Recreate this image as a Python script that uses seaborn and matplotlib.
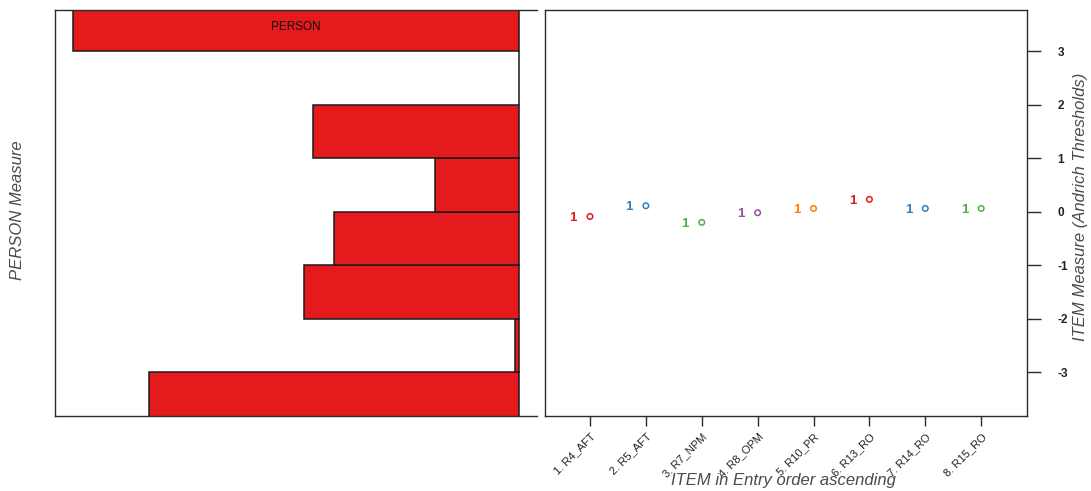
import numpy as np
import pandas as pd
import matplotlib
matplotlib.use("Agg")
import matplotlib.pyplot as plt
import seaborn as sns

# Person distribution: counts per 1-logit bin (bin edges in logits)
bin_edges = [-4, -3, -2, -1, 0, 1, 2, 3, 4]
person_counts = [88, 1, 51, 44, 20, 49, 0, 106]

# Items and their threshold locations
item_names = ["1. R4_AFT", "2. R5_AFT", "3. R7_NPM", "4. R8_OPM",
              "5. R10_PR", "6. R13_RO", "7. R14_RO", "8. R15_RO"]
item_measure = [-0.09, 0.11, -0.20, -0.02, 0.06, 0.23, 0.06, 0.06]
threshold_label = ["1", "1", "1", "1", "1", "1", "1", "1"]
item_colors = ["#E41A1C", "#377EB8", "#4DAF4A", "#984EA3", "#FF7F00",
               "#E41A1C", "#377EB8", "#4DAF4A"]

y_ticks = [-3, -2, -1, 0, 1, 2, 3]
y_lim = (-3.82, 3.77)

sns.set_style("white")
plt.rcParams["font.family"] = ["Liberation Sans", "DejaVu Sans"]

W, H = 1091, 491
fig = plt.figure(figsize=(W / 100, H / 100), dpi=100)
ax_p = fig.add_axes([55 / W, (H - 416) / H, (537 - 55) / W, (416 - 10) / H])
ax_i = fig.add_axes([545 / W, (H - 416) / H, (1027 - 545) / W, (416 - 10) / H])

spine_col = "#2b2b2b"
label_col = "#4a4a4a"

# ---- person histogram (left) ----
centers = [(a + b) / 2 for a, b in zip(bin_edges[:-1], bin_edges[1:])]
persons = pd.DataFrame({"measure": centers, "count": person_counts})
sns.histplot(data=persons, y="measure", weights="count", bins=bin_edges,
             color="#E41A1C", edgecolor="#1a1a1a", linewidth=1.1, alpha=1,
             ax=ax_p)
cmax = max(person_counts)
ax_p.set_xlim(cmax * 1.04, -cmax * 0.04)
ax_p.set_ylim(*y_lim)
ax_p.set_xticks([])
ax_p.set_yticks([])
ax_p.set_xlabel("")
ax_p.set_ylabel("")
for side in ["left", "top", "bottom"]:
    ax_p.spines[side].set_color(spine_col)
    ax_p.spines[side].set_linewidth(1)
ax_p.spines["right"].set_visible(False)
ax_p.text(0.5, 0.958, "PERSON", transform=ax_p.transAxes, ha="center",
          va="center", fontsize=8.5, color="#111111")

# ---- item thresholds (right) ----
items = pd.DataFrame({"item": item_names,
                      "pos": np.arange(1, len(item_names) + 1),
                      "measure": item_measure})
sns.scatterplot(data=items, x="pos", y="measure", hue="item",
                palette=item_colors, marker="o", s=16, facecolors="none",
                linewidth=1.1, legend=False, ax=ax_i)
# open circles with per-item edge colours
coll = ax_i.collections[-1]
coll.set_facecolor("none")
coll.set_edgecolors(item_colors)
for x, y, lab, c in zip(items["pos"], item_measure, threshold_label, item_colors):
    ax_i.text(x - 0.3, y - 0.03, lab, color=c, fontsize=9.5,
              fontweight="bold", ha="center", va="center")

ax_i.set_xlim(0.195, 8.82)
ax_i.set_ylim(*y_lim)
ax_i.set_xticks(items["pos"])
ax_i.set_xticklabels(item_names, rotation=45, ha="right",
                     rotation_mode="anchor", fontsize=8, color="#222222")
ax_i.yaxis.tick_right()
ax_i.set_yticks(y_ticks)
ax_i.set_yticklabels([str(t) for t in y_ticks], fontsize=8.5,
                     fontweight="bold", color="#222222")
ax_i.tick_params(axis="y", which="both", right=True, left=False,
                 length=10, width=1, color=spine_col, pad=12)
ax_i.tick_params(axis="x", which="both", bottom=True, length=7, width=1,
                 color=spine_col, pad=4)
ax_i.set_xlabel("")
ax_i.set_ylabel("")
for side in ax_i.spines:
    ax_i.spines[side].set_color(spine_col)
    ax_i.spines[side].set_linewidth(1)

# axis titles placed in figure pixels
fig.text(18 / W, 1 - 210 / H, "PERSON Measure", rotation=90, ha="center",
         va="center", fontsize=12, style="italic", color=label_col)
fig.text(1080 / W, 1 - 207 / H, "ITEM Measure (Andrich Thresholds)",
         rotation=90, ha="center", va="center", fontsize=12,
         style="italic", color=label_col)
fig.text(783 / W, 1 - 480 / H, "ITEM in Entry order ascending",
         ha="center", va="center", fontsize=12, style="italic",
         color=label_col)

fig.savefig("out.png", dpi=100, facecolor="white")
